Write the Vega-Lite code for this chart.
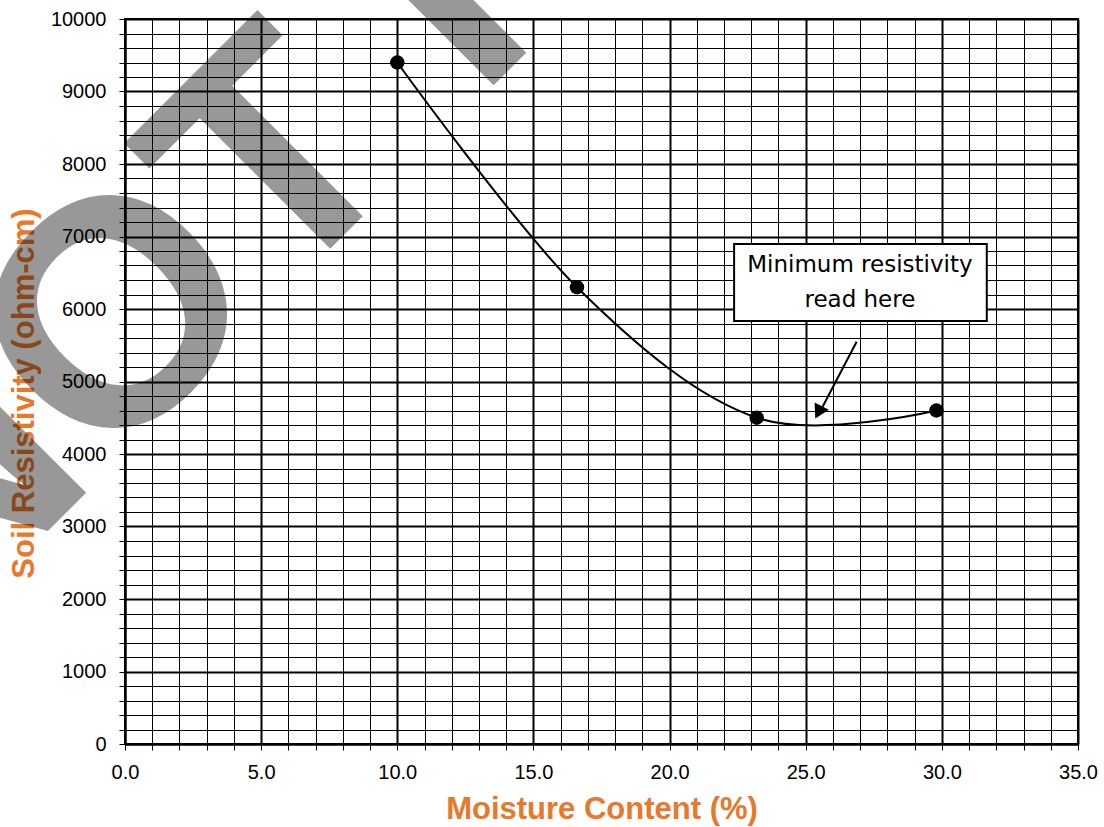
{
  "$schema": "https://vega.github.io/schema/vega-lite/v6.json",
  "width": 953,
  "height": 725,
  "autosize": {"type": "none"},
  "padding": {"left": 125, "top": 19, "right": 26, "bottom": 83},
  "background": "white",
  "config": {
    "view": {"stroke": "black", "strokeWidth": 2},
    "font": "Liberation Sans"
  },
  "datasets": {
    "readings": [
      {"moisture": 10.0, "resistivity": 9400},
      {"moisture": 16.6, "resistivity": 6300},
      {"moisture": 23.2, "resistivity": 4500},
      {"moisture": 29.8, "resistivity": 4600}
    ],
    "watermark": [
      {"moisture": -6.87, "resistivity": 1421, "label": "NOT FOR"}
    ],
    "callout": [
      {"moisture": 22.37, "moisture_end": 31.65, "resistivity": 6897, "resistivity_end": 5834}
    ],
    "callout_text": [
      {"moisture": 26.99, "resistivity": 6514, "label": "Minimum resistivity"},
      {"moisture": 26.99, "resistivity": 6032, "label": "read here"}
    ],
    "pointer": [
      {"moisture": 26.87, "resistivity": 5549, "moisture_end": 25.62, "resistivity_end": 4652}
    ],
    "pointer_head": [
      {"moisture": 25.47, "resistivity": 4575}
    ]
  },
  "encoding": {
    "x": {
      "field": "moisture",
      "type": "quantitative",
      "scale": {"domain": [0, 35], "nice": false, "zero": false},
      "axis": {
        "title": "Moisture Content (%)",
        "values": [0,1,2,3,4,5,6,7,8,9,10,11,12,13,14,15,16,17,18,19,20,21,22,23,24,25,26,27,28,29,30,31,32,33,34,35],
        "format": ".1f",
        "labelExpr": "datum.value % 5 === 0 ? datum.label : ''",
        "grid": true,
        "gridColor": "black",
        "gridOpacity": 1,
        "gridWidth": {"condition": {"test": "datum.value % 5 === 0", "value": 2}, "value": 1},
        "domainColor": "black",
        "domainWidth": 2,
        "tickColor": "black",
        "tickSize": 6,
        "tickWidth": 1,
        "labelFont": "Liberation Sans",
        "labelFontSize": 20,
        "labelColor": "black",
        "labelPadding": 12,
        "labelFlush": false,
        "labelOverlap": false,
        "titleFont": "Liberation Sans",
        "titleFontSize": 31,
        "titleFontWeight": "bold",
        "titleColor": "#E8782A",
        "titlePadding": 12
      }
    },
    "y": {
      "field": "resistivity",
      "type": "quantitative",
      "scale": {"domain": [0, 10000], "nice": false, "zero": false},
      "axis": {
        "title": "Soil Resistivity (ohm-cm)",
        "values": [0,200,400,600,800,1000,1200,1400,1600,1800,2000,2200,2400,2600,2800,3000,3200,3400,3600,3800,4000,4200,4400,4600,4800,5000,5200,5400,5600,5800,6000,6200,6400,6600,6800,7000,7200,7400,7600,7800,8000,8200,8400,8600,8800,9000,9200,9400,9600,9800,10000],
        "format": "d",
        "labelExpr": "datum.value % 1000 === 0 ? datum.label : ''",
        "grid": true,
        "gridColor": "black",
        "gridOpacity": 1,
        "gridWidth": {"condition": {"test": "datum.value % 1000 === 0", "value": 2}, "value": 1},
        "domainColor": "black",
        "domainWidth": 2,
        "tickColor": "black",
        "tickSize": 6,
        "tickWidth": 1,
        "labelFont": "Liberation Sans",
        "labelFontSize": 20,
        "labelColor": "black",
        "labelPadding": 13,
        "labelOverlap": false,
        "labelFlush": false,
        "titleFont": "Liberation Sans",
        "titleFontSize": 31,
        "titleFontWeight": "bold",
        "titleColor": "#E8782A",
        "titlePadding": 10,
        "titleY": 374
      }
    }
  },
  "layer": [
    {
      "data": {"name": "watermark"},
      "mark": {
        "type": "text",
        "font": "Liberation Sans",
        "fontWeight": "bold",
        "fontSize": 320,
        "angle": -45,
        "align": "left",
        "baseline": "alphabetic",
        "color": "black",
        "opacity": 0.4
      },
      "encoding": {"text": {"field": "label"}}
    },
    {
      "data": {"name": "readings"},
      "mark": {"type": "line", "interpolate": "cardinal", "color": "black", "strokeWidth": 2}
    },
    {
      "data": {"name": "readings"},
      "mark": {"type": "point", "shape": "circle", "filled": true, "color": "black", "opacity": 1, "size": 210}
    },
    {
      "data": {"name": "callout"},
      "mark": {"type": "rect", "fill": "white", "stroke": "black", "strokeWidth": 2},
      "encoding": {
        "x2": {"field": "moisture_end"},
        "y2": {"field": "resistivity_end"}
      }
    },
    {
      "data": {"name": "callout_text"},
      "mark": {"type": "text", "font": "DejaVu Sans", "fontSize": 23, "align": "center", "baseline": "alphabetic", "color": "black"},
      "encoding": {"text": {"field": "label"}}
    },
    {
      "data": {"name": "pointer"},
      "mark": {"type": "rule", "color": "black", "strokeWidth": 2},
      "encoding": {
        "x2": {"field": "moisture_end"},
        "y2": {"field": "resistivity_end"}
      }
    },
    {
      "data": {"name": "pointer_head"},
      "mark": {"type": "point", "shape": "triangle-up", "filled": true, "color": "black", "opacity": 1, "size": 260, "angle": 207.6}
    }
  ]
}
